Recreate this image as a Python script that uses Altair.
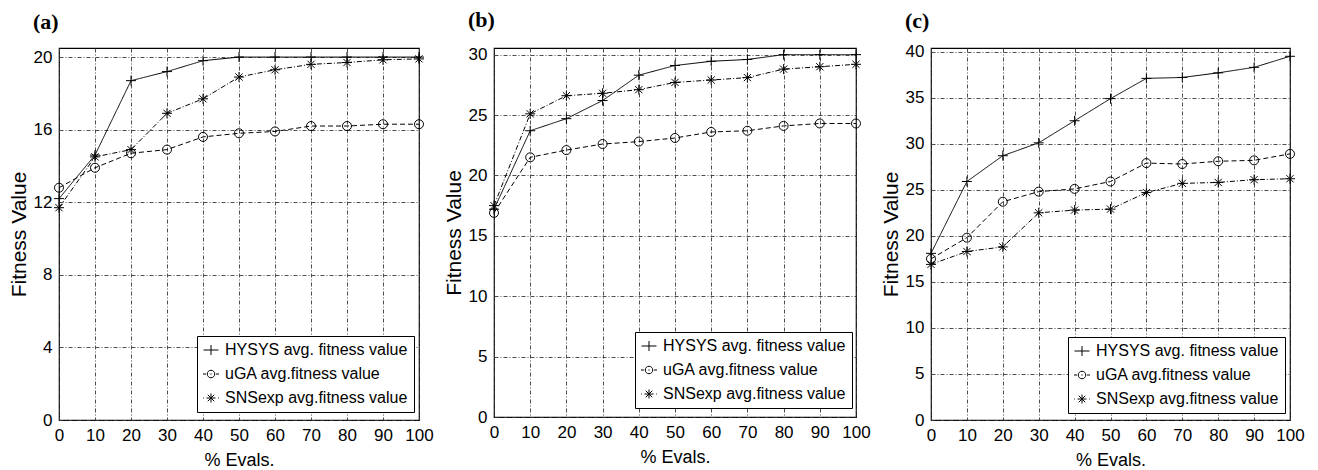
import altair as alt
import pandas as pd

evals = [0, 10, 20, 30, 40, 50, 60, 70, 80, 90, 100]
series_names = ["HYSYS avg. fitness value", "uGA avg.fitness value", "SNSexp avg.fitness value"]

# panel (a)
a_hysys = [12.2, 14.6, 18.7, 19.2, 19.8, 20.0, 20.0, 20.0, 20.0, 20.0, 20.0]
a_uga = [12.8, 13.9, 14.7, 14.9, 15.6, 15.8, 15.9, 16.2, 16.2, 16.3, 16.3]
a_sns = [11.7, 14.5, 14.9, 16.9, 17.7, 18.9, 19.3, 19.6, 19.7, 19.85, 19.9]
# panel (b)
b_hysys = [17.2, 23.7, 24.7, 26.2, 28.3, 29.1, 29.45, 29.6, 30.0, 30.0, 30.0]
b_uga = [16.9, 21.5, 22.1, 22.6, 22.8, 23.1, 23.6, 23.7, 24.1, 24.3, 24.3]
b_sns = [17.5, 25.1, 26.6, 26.8, 27.1, 27.7, 27.9, 28.1, 28.8, 29.0, 29.2]
# panel (c)
c_hysys = [18.1, 25.9, 28.7, 30.1, 32.5, 34.9, 37.1, 37.2, 37.7, 38.3, 39.5]
c_uga = [17.5, 19.8, 23.7, 24.8, 25.1, 25.9, 27.9, 27.8, 28.1, 28.2, 28.9]
c_sns = [16.9, 18.3, 18.8, 22.5, 22.8, 22.9, 24.7, 25.7, 25.8, 26.1, 26.2]

a_yticks = [0, 4, 8, 12, 16, 20]
b_yticks = [0, 5, 10, 15, 20, 25, 30]
c_yticks = [0, 5, 10, 15, 20, 25, 30, 35, 40]

marker_paths = [
    "M-1,0H1M0,-1V1",
    "M0.9,0A0.9,0.9 0 1,1 -0.9,0A0.9,0.9 0 1,1 0.9,0Z",
    "M-1,0H1M0,-1V1M-0.72,-0.72L0.72,0.72M-0.72,0.72L0.72,-0.72",
]
legend_paths = [
    "M-1.5,0H1.5M0,-1V1",
    "M-1.6,0H-1.0M1.0,0H1.6M0.75,0A0.75,0.75 0 1,1 -0.75,0A0.75,0.75 0 1,1 0.75,0ZM-0.12,0H0.12",
    "M-1.6,0H-1.45M1.45,0H1.6M-0.9,0H0.9M0,-0.9V0.9M-0.65,-0.65L0.65,0.65M-0.65,0.65L0.65,-0.65",
]
dashes = [[1, 0], [5, 3], [5, 2, 1, 2]]


def make_df(h, u, s):
    rows = []
    for name, vals in zip(series_names, [h, u, s]):
        for x, y in zip(evals, vals):
            rows.append({"x": x, "y": y, "series": name})
    return pd.DataFrame(rows)


def panel(label, h, u, s, ymax, yticks, lx, ly, toff, w, ht):
    df = make_df(h, u, s)
    base = alt.Chart(df)
    xenc = alt.X("x:Q", scale=alt.Scale(domain=[0, 100], nice=False, zero=False),
                 axis=alt.Axis(values=evals, title="% Evals.", labelFlush=False, labelOverlap=False))
    yenc = alt.Y("y:Q", scale=alt.Scale(domain=[0, ymax], nice=False),
                 axis=alt.Axis(values=yticks, title="Fitness Value", labelOverlap=False))
    line = base.mark_line(color="black", strokeWidth=1).encode(
        x=xenc, y=yenc,
        strokeDash=alt.StrokeDash("series:N", scale=alt.Scale(domain=series_names, range=dashes), legend=None),
    )
    pts = base.mark_point(filled=False, color="black", size=100, strokeWidth=1, opacity=1).encode(
        x=xenc, y=yenc,
        shape=alt.Shape("series:N", scale=alt.Scale(domain=series_names, range=marker_paths), legend=None),
    )
    leg = base.mark_point(filled=False, color="black", size=100, strokeWidth=1, opacity=0).encode(
        x=xenc, y=yenc,
        shape=alt.Shape("series:N", scale=alt.Scale(domain=series_names, range=legend_paths),
                        legend=alt.Legend(orient="none", legendX=lx, legendY=ly, title=None,
                                          symbolOpacity=1, symbolSize=100, labelLimit=0)),
    )
    return alt.layer(line, pts, leg).resolve_scale(shape="independent").properties(
        width=w, height=ht,
        title=alt.TitleParams(label, anchor="start", frame="group", dx=-26, offset=toff, baseline="alphabetic"),
    )


pa = panel("(a)", a_hysys, a_uga, a_sns, 20.5, a_yticks, 138, 288, -3, 360, 372)
pb = panel("(b)", b_hysys, b_uga, b_sns, 30.55, b_yticks, 141, 284, -3, 362, 369)
pc = panel("(c)", c_hysys, c_uga, c_sns, 40.4, c_yticks, 137, 289, -7, 359, 372)

chart = alt.hconcat(pa, pb, pc, spacing=8).resolve_scale(
    shape="independent", strokeDash="independent"
).resolve_legend(shape="independent").properties(
    padding={"left": 7, "top": 8, "right": 2, "bottom": 0}, background="white"
).configure_view(
    stroke="black", strokeWidth=1.2
).configure_axis(
    labelFont="Liberation Sans", labelFontSize=17, labelColor="black",
    titleFont="Liberation Sans", titleFontWeight="normal", titleColor="black",
    domain=False, ticks=False, labelPadding=7,
    gridColor="#3a3a3a", gridDash=[4, 2, 1, 2], gridWidth=1, gridOpacity=0.9,
).configure_axisY(titlePadding=4, titleFontSize=21).configure_axisX(titlePadding=8, titleFontSize=18).configure_legend(
    labelFont="Liberation Sans", labelFontSize=16, labelColor="black",
    strokeColor="black", fillColor="white", padding=6, rowPadding=8, labelOffset=6,
    symbolStrokeWidth=1, symbolStrokeColor="black", cornerRadius=0,
).configure_title(
    font="Liberation Serif", fontSize=22, fontWeight="bold", color="black"
)

chart.save("out.html", embed_options={"renderer": "svg", "actions": False})
